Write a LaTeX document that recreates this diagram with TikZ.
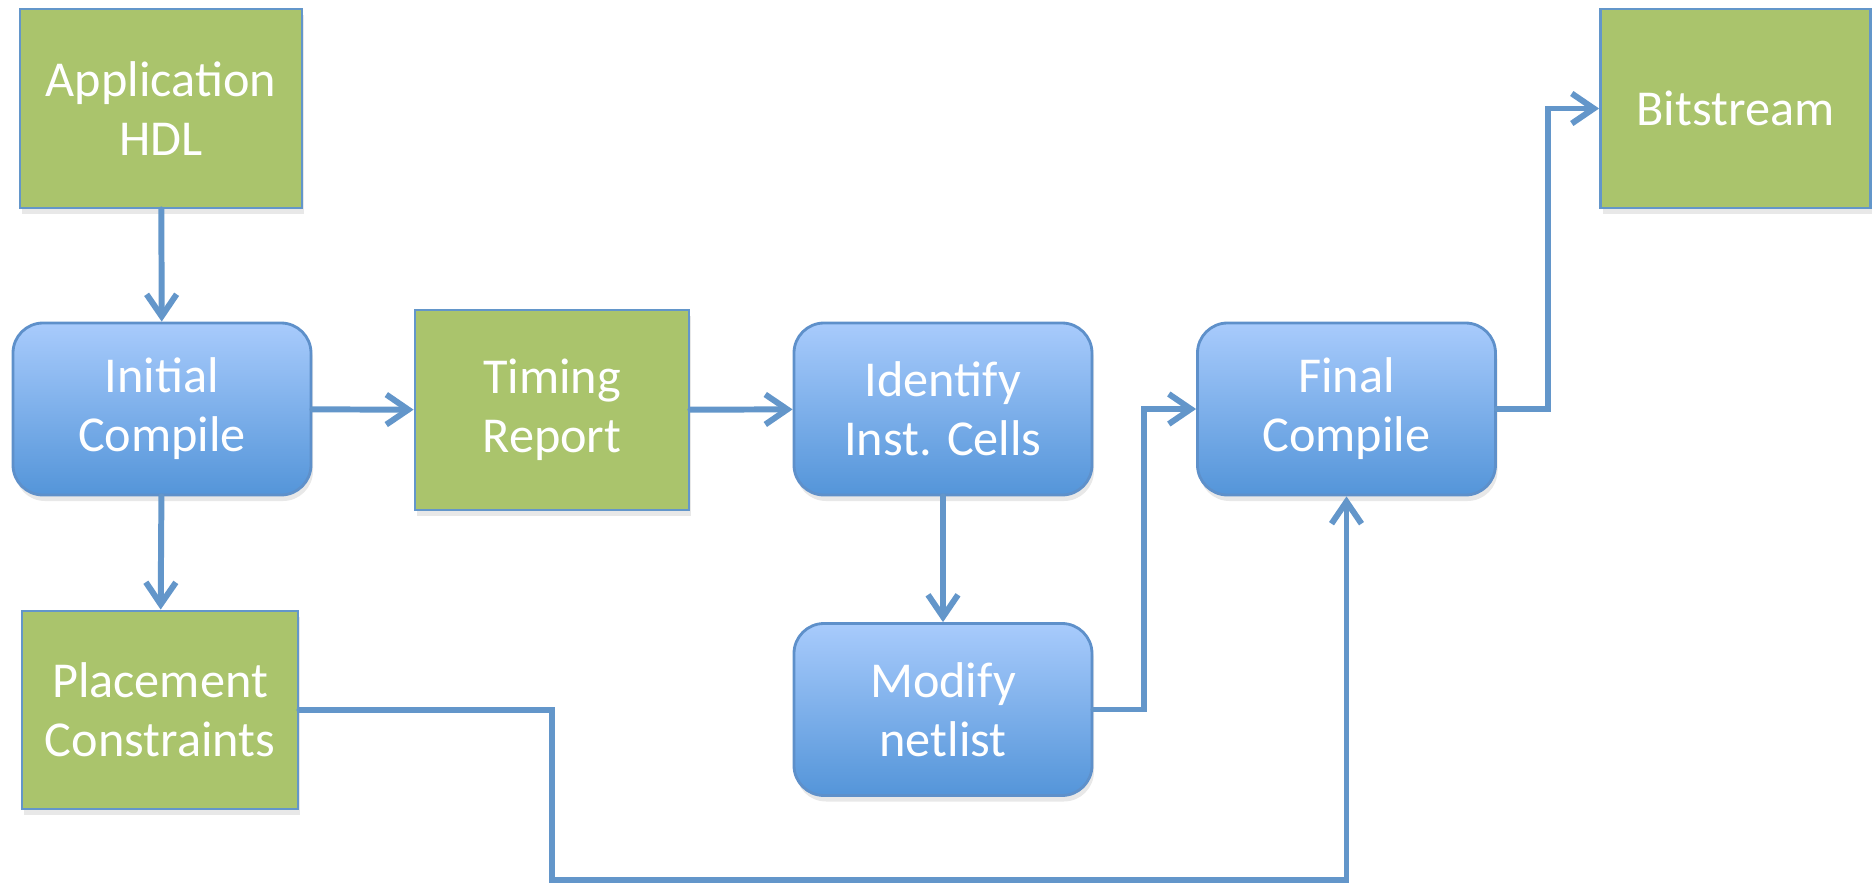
\documentclass[tikz,border=0pt]{standalone}
\usepackage{fontspec}
\setmainfont{Carlito}
\usetikzlibrary{arrows.meta,shadows}
\definecolor{linkblue}{RGB}{99,150,202}
\definecolor{datagreen}{RGB}{170,196,108}
\definecolor{steptop}{RGB}{168,203,252}
\definecolor{stepbottom}{RGB}{84,149,217}
\definecolor{stepborder}{RGB}{94,144,202}
\tikzset{
	flow/.style={draw=linkblue,line width=1.7pt,line cap=round,-{Straight Barb[length=2.2mm,width=3mm]}},
	boxshadow/.style={drop shadow={opacity=0.18,shadow xshift=0.02cm,shadow yshift=-0.06cm}}
}
\begin{document}
\begin{tikzpicture}
			\useasboundingbox (0,0) rectangle (18.72,-8.83);
			\begin{scope}[every node/.style={rectangle,draw=linkblue,line width=0.8pt,fill=datagreen,text=white,align=center,boxshadow,font=\fontsize{14.3}{16.8}\selectfont,minimum height=1.99cm}]
				\node[minimum width=2.82cm] (App) at (1.61,-1.085) {Application\\HDL};
				\node[minimum width=2.74cm,minimum height=2.00cm] (Timing) at (5.52,-4.10) {Timing\\Report};
				\node[minimum width=2.76cm,minimum height=1.98cm] (Place) at (1.60,-7.10) {Placement\\Constraints};
				\node[minimum width=2.70cm] (Bit) at (17.355,-1.085) {Bitstream};
			\end{scope}
			\begin{scope}[every node/.style={rectangle,rounded corners=0.3cm,draw=stepborder,line width=0.8pt,top color=steptop,bottom color=stepbottom,text=white,align=center,boxshadow,font=\fontsize{14.3}{16.8}\selectfont,minimum width=2.98cm,minimum height=1.72cm}]
				\node (Initial) at (1.62,-4.09) {Initial\\Compile};
				\node (Identify) at (9.43,-4.09) {Identify\\Inst. Cells};
				\node (Final) at (13.465,-4.09) {Final\\Compile};
				\node (Modify) at (9.43,-7.095) {Modify\\netlist};
			\end{scope}
			\begin{scope}[every path/.style={flow}]
				\path (App) edge (Initial);
				\path (Initial) edge (Timing);
				\path (Timing) edge (Identify);
				\path (Identify) edge (Modify);
				\path (Initial) edge (Place);
				\draw (Modify.east) -- (11.44,-7.095) |- (Final.west);
				\draw (Final.east) -- (15.48,-4.09) |- (Bit.west);
				\draw (Place.east) -- (5.52,-7.10) -- (5.52,-8.80) -| (Final.south);
			\end{scope}
		\end{tikzpicture}
\end{document}
